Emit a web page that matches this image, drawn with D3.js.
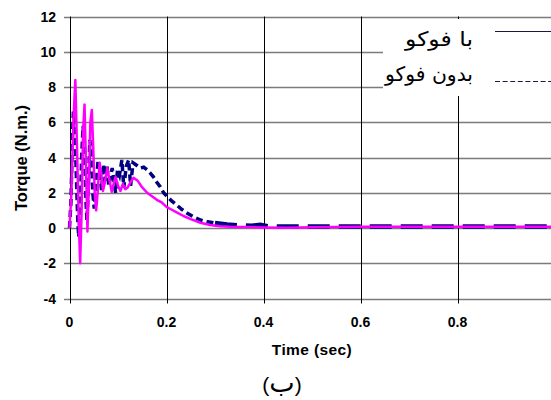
<!DOCTYPE html>
<html lang="en">
<head>
    <meta charset="UTF-8">
    <title>Torque vs Time</title>
    <script src="https://d3js.org/d3.v7.min.js"></script>
    <style>
        body { margin: 0; background: #fff; }
        svg { display: block; }
        .tick-label { font-family: "Liberation Sans", Arial, sans-serif; font-weight: bold; font-size: 14px; fill: #000; }
        .axis-title { font-family: "Liberation Sans", Arial, sans-serif; font-weight: bold; fill: #000; }
        .fa { font-family: "DejaVu Sans", sans-serif; fill: #000; }
    </style>
</head>
<body>
    <svg width="551" height="400" id="chart"></svg>

    <script>
        // y axis ticks / x axis ticks
        const yTicks = [-4, -2, 0, 2, 4, 6, 8, 10, 12];
        const xTicks = [0, 0.2, 0.4, 0.6, 0.8];

        // legend labels
        const legendLabels = ["با فوکو", "بدون فوکو"];

        // solid magenta series
        const tSolid = [0, 0.004, 0.008, 0.012, 0.016, 0.019, 0.022, 0.025, 0.028, 0.031, 0.034, 0.037,
            0.040, 0.043, 0.046, 0.049, 0.052, 0.055, 0.058, 0.062, 0.066, 0.069, 0.073, 0.078, 0.082,
            0.087, 0.091, 0.095, 0.100, 0.105, 0.110, 0.115, 0.120, 0.126, 0.132, 0.140, 0.150, 0.160,
            0.170, 0.180, 0.190, 0.200, 0.210, 0.220, 0.235, 0.250, 0.270, 0.290, 0.310, 0.330, 0.360,
            0.400, 0.450, 0.500, 0.550, 0.600, 0.700, 0.800, 0.900, 1.000];
        const vSolid = [0, 2.0, 6.0, 8.4, 4.0, 0.5, -2.0, 1.0, 5.5, 7.0, 3.5, -0.2,
            2.5, 6.0, 6.7, 4.5, 2.0, 1.0, 2.0, 3.7, 3.0, 2.1, 2.6, 3.4, 2.8,
            2.05, 2.5, 2.9, 2.4, 2.1, 2.5, 2.2, 2.3, 2.6, 2.85, 2.7, 2.3, 2.0,
            1.8, 1.6, 1.45, 1.2, 1.05, 0.9, 0.68, 0.5, 0.3, 0.17, 0.1, 0.07, 0.05,
            0.03, 0.02, 0.04, 0.06, 0.07, 0.07, 0.07, 0.07, 0.07];

        // dashed navy series
        const tDashed = [0, 0.003, 0.006, 0.008, 0.011, 0.014, 0.017, 0.019, 0.022, 0.025, 0.028, 0.031,
            0.034, 0.036, 0.039, 0.042, 0.045, 0.048, 0.051, 0.055, 0.059, 0.063, 0.066, 0.070, 0.074,
            0.077, 0.081, 0.084, 0.088, 0.092, 0.095, 0.099, 0.103, 0.108, 0.112, 0.117, 0.122, 0.126,
            0.131, 0.139, 0.146, 0.153, 0.160, 0.167, 0.173, 0.180, 0.187, 0.194, 0.201, 0.210, 0.221,
            0.232, 0.242, 0.255, 0.270, 0.285, 0.300, 0.325, 0.350, 0.375, 0.393, 0.410, 0.450, 0.500,
            0.600, 0.700, 0.800, 0.900, 1.000];
        const vDashed = [0, 1.5, 5.0, 6.6, 6.0, 3.0, 0.5, -0.5, 0.8, 4.0, 5.8, 4.5,
            1.5, 0.4, 2.5, 5.0, 4.3, 2.0, 1.1, 2.5, 3.86, 3.0, 2.15, 3.6, 2.7,
            3.6, 2.4, 2.8, 3.4, 2.6, 2.0, 3.3, 3.0, 3.86, 2.3, 3.5, 3.86, 2.4,
            3.7, 3.55, 3.4, 3.45, 3.3, 3.1, 2.9, 2.6, 2.34, 2.0, 1.8, 1.55, 1.3,
            1.05, 0.85, 0.65, 0.45, 0.35, 0.28, 0.2, 0.15, 0.13, 0.18, 0.1, 0.08, 0.08,
            0.08, 0.08, 0.08, 0.08, 0.08];

        const svg = d3.select("#chart");

        const x = d3.scaleLinear().domain([0, 1]).range([69.5, 554.5]);
        const y = d3.scaleLinear().domain([-4, 12]).range([298.5, 16.5]);

        // horizontal grid lines (gray), with small ticks left of the axis
        svg.append("g").selectAll("line")
            .data(yTicks)
            .join("line")
            .attr("x1", 64).attr("x2", 551)
            .attr("y1", d => Math.round(y(d)) + 0.5)
            .attr("y2", d => Math.round(y(d)) + 0.5)
            .attr("stroke", "#7b7b7b")
            .attr("stroke-width", 1.3);

        // vertical grid lines (black), extending below as ticks
        svg.append("g").selectAll("line")
            .data(xTicks.slice(1))
            .join("line")
            .attr("x1", d => Math.round(x(d)) + 0.5)
            .attr("x2", d => Math.round(x(d)) + 0.5)
            .attr("y1", y(12)).attr("y2", y(-4) + 5)
            .attr("stroke", "#000")
            .attr("stroke-width", 1);

        // y axis line
        svg.append("line")
            .attr("x1", Math.round(x(0)) + 0.5).attr("x2", Math.round(x(0)) + 0.5)
            .attr("y1", y(12)).attr("y2", y(-4) + 5)
            .attr("stroke", "#000");

        // tick labels
        svg.append("g").selectAll("text")
            .data(yTicks)
            .join("text")
            .attr("class", "tick-label")
            .attr("x", 56)
            .attr("y", d => y(d) + 5)
            .attr("text-anchor", "end")
            .text(d => d);

        svg.append("g").selectAll("text")
            .data(xTicks)
            .join("text")
            .attr("class", "tick-label")
            .attr("x", d => x(d))
            .attr("y", 327)
            .attr("text-anchor", "middle")
            .text(d => d);

        // series lines
        const line = d3.line().x(d => x(d[0])).y(d => y(d[1]));
        const dashedData = d3.zip(tDashed, vDashed);
        const solidData = d3.zip(tSolid, vSolid);

        // Excel restarts its dash per segment, so the dense part looks dotted, the tail long-dashed
        svg.append("path")
            .datum(dashedData.filter(d => d[0] <= 0.3))
            .attr("d", line)
            .attr("fill", "none")
            .attr("stroke", "#000080")
            .attr("stroke-width", 3.5)
            .attr("stroke-dasharray", "7,4");

        svg.append("path")
            .datum(dashedData.filter(d => d[0] >= 0.3))
            .attr("d", line)
            .attr("fill", "none")
            .attr("stroke", "#000080")
            .attr("stroke-width", 4.5)
            .attr("stroke-dasharray", "22,9");

        svg.append("path")
            .datum(solidData)
            .attr("d", line)
            .attr("fill", "none")
            .attr("stroke", "#ff00ff")
            .attr("stroke-width", 2.5)
            .attr("stroke-linejoin", "round");

        // legend box (covers grid)
        svg.append("rect")
            .attr("x", 383).attr("y", 19)
            .attr("width", 170).attr("height", 77)
            .attr("fill", "#fff");

        const legendY = [31.5, 81.5];
        const textY = [46, 81];
        const textW = [68, 88];
        svg.append("g").selectAll("line")
            .data(legendLabels)
            .join("line")
            .attr("x1", 495).attr("x2", 551)
            .attr("y1", (d, i) => legendY[i]).attr("y2", (d, i) => legendY[i])
            .attr("stroke", "#1a1a3a")
            .attr("stroke-width", 1)
            .attr("stroke-dasharray", (d, i) => i === 1 ? "5,2.6" : null);

        svg.append("g").selectAll("text")
            .data(legendLabels)
            .join("text")
            .attr("class", "fa")
            .attr("x", (d, i) => 473 - textW[i])
            .attr("y", (d, i) => textY[i])
            .attr("font-size", 20)
            .attr("textLength", (d, i) => textW[i])
            .attr("lengthAdjust", "spacingAndGlyphs")
            .text(d => d);

        // axis titles
        svg.append("text")
            .attr("class", "axis-title")
            .attr("x", 312).attr("y", 355)
            .attr("text-anchor", "middle")
            .attr("font-size", 15.5)
            .attr("letter-spacing", 0.4)
            .text("Time (sec)");

        svg.append("text")
            .attr("class", "axis-title")
            .attr("transform", "translate(27,158) rotate(-90)")
            .attr("text-anchor", "middle")
            .attr("font-size", 16.5)
            .text("Torque (N.m.)");

        // caption: letter in larger size between the parentheses
        const caption = svg.append("text")
            .attr("x", 282).attr("y", 392)
            .attr("text-anchor", "middle")
            .attr("font-family", "'Liberation Sans', 'DejaVu Sans', sans-serif")
            .attr("font-size", 21);
        caption.append("tspan").text("(");
        caption.append("tspan").attr("font-size", 27).attr("font-family", "'DejaVu Sans', sans-serif").text("ب");
        caption.append("tspan").text(")");
    </script>
</body>
</html>
